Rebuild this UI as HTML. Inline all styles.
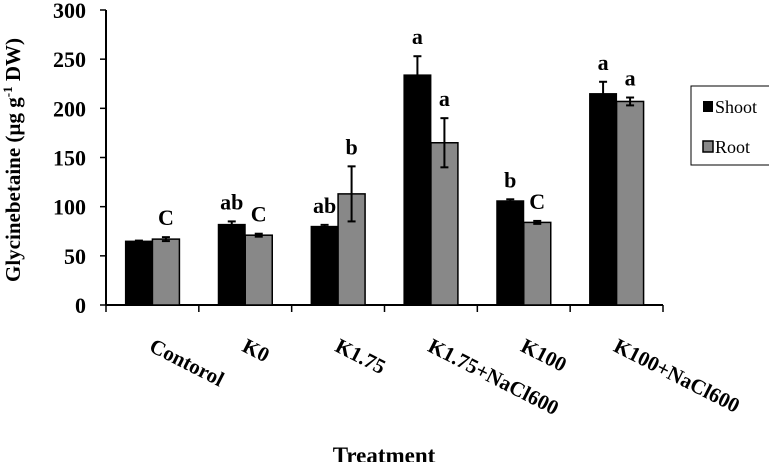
<!DOCTYPE html>
<html><head><meta charset="utf-8"><style>
body{margin:0;background:#fff;}
svg text{font-family:"Liberation Serif",serif;font-weight:bold;fill:#000;}
</style></head><body>
<svg width="769" height="462" xmlns="http://www.w3.org/2000/svg">
<g id="g"></g>
</svg>
<script>
const categories=["Contorol","K0","K1.75","K1.75+NaCl600","K100","K100+NaCl600"];
const shoot=[65,82,80,234,106,215];
const root=[67,71,113,165,84,207];
const shootErr=[0.5,3,1.5,19,1.5,12];
const rootErr=[2,1.5,28,25,1.5,4];
const shootLetters=["","ab","ab","a","b","a"];
const rootLetters=["C","C","b","a","C","a"];
const yTicks=[0,50,100,150,200,250,300];
const NS="http://www.w3.org/2000/svg";
const g=document.getElementById('g');
const x0=106,x1=663,y0=305,yTop=10,yMax=300;
const y=v=>y0-(v/yMax)*(y0-yTop);
const bw=(x1-x0)/categories.length;
function mk(t,a,p){const e=document.createElementNS(NS,t);for(const k in a)e.setAttribute(k,a[k]);(p||g).appendChild(e);return e;}
let ax=mk('line',{x1:x0,y1:yTop,x2:x0,y2:y0,stroke:'#000','stroke-width':2});


let axx=mk('line',{x1:x0,y1:y0,x2:x1,y2:y0,stroke:'#000','stroke-width':2});


yTicks.forEach(v=>{
 mk('line',{x1:x0-6,y1:y(v),x2:x0,y2:y(v),stroke:'#000','stroke-width':1.5});
 const t=mk('text',{x:x0-20,y:y(v)+8,'text-anchor':'end','font-size':22});
 t.textContent=v;
 
 
});
for(let i=0;i<=categories.length;i++){
 mk('line',{x1:x0+i*bw,y1:y0,x2:x0+i*bw,y2:y0+7,stroke:'#000','stroke-width':1.5});
}
categories.forEach((c,i)=>{
 const cx=x0+bw*(i+0.5);
 const w=27;
 const rs=mk('rect',{x:cx-w,y:y(shoot[i]),width:w,height:y0-y(shoot[i]),fill:'#000',stroke:'#000'});
 
 
 const rr=mk('rect',{x:cx,y:y(root[i]),width:w,height:y0-y(root[i]),fill:'#888',stroke:'#000','stroke-width':1.5});
 
 
 [[cx-w/2,shoot[i],shootErr[i]],[cx+w/2,root[i],rootErr[i]]].forEach(([ex,v,e])=>{
  mk('line',{x1:ex,y1:y(v+e),x2:ex,y2:y(v-e),stroke:'#000','stroke-width':2});
  mk('line',{x1:ex-4,y1:y(v+e),x2:ex+4,y2:y(v+e),stroke:'#000','stroke-width':2});
  mk('line',{x1:ex-4,y1:y(v-e),x2:ex+4,y2:y(v-e),stroke:'#000','stroke-width':2});
 });
 if(shootLetters[i]){const t=mk('text',{x:cx-w/2,y:y(shoot[i]+shootErr[i])-12,'text-anchor':'middle','font-size':22});t.textContent=shootLetters[i];
 
 }
 if(rootLetters[i]){const t=mk('text',{x:cx+w/2,y:y(root[i]+rootErr[i])-12,'text-anchor':'middle','font-size':22});t.textContent=rootLetters[i];
 
 }
 const lx=cx+2, ly=352;
 const t=mk('text',{x:lx,y:ly,'font-size':21,transform:`rotate(27 ${lx} ${ly-14})`});
 t.textContent=c;
 
 
});
</script>
<svg style="position:absolute;left:0;top:0" width="769" height="462" xmlns="http://www.w3.org/2000/svg">
<text x="384" y="463" text-anchor="middle" font-size="23">Treatment</text>
<text transform="translate(20 160) rotate(-90)" text-anchor="middle" font-size="21">Glycinebetaine (µg g<tspan font-size="13" dy="-8">-1</tspan><tspan dy="8"> DW)</tspan></text>
<g>
<rect x="691" y="86" width="80" height="79" fill="#fff" stroke="#000" stroke-width="1"/>
<rect x="703" y="101" width="10" height="11" fill="#000"/>
<text x="715" y="113" font-size="18" style="font-weight:normal">Shoot</text>
<rect x="703" y="141" width="10" height="11" fill="#888" stroke="#000" stroke-width="1.5"/>
<text x="715" y="153" font-size="18" style="font-weight:normal">Root</text>
</g>
</svg>
</body></html>
